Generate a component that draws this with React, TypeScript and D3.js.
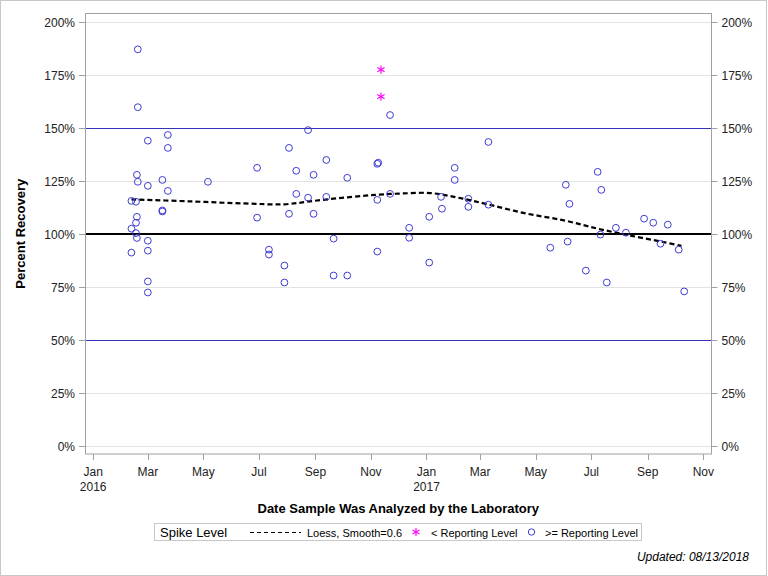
import React, { useEffect, useRef } from 'react';
import * as d3 from 'd3';

const width = 768;
const height = 576;
const font = '"Liberation Sans", Arial, sans-serif';

// samples at or above the reporting level (date analyzed, percent recovery)
const aboveDates = [
	'2016-02-12', '2016-02-12', '2016-02-12',
	'2016-02-17', '2016-02-17', '2016-02-17',
	'2016-02-18', '2016-02-18', '2016-02-18',
	'2016-02-19', '2016-02-19', '2016-02-19',
	'2016-03-01', '2016-03-01', '2016-03-01', '2016-03-01', '2016-03-01', '2016-03-01',
	'2016-03-17', '2016-03-17', '2016-03-17',
	'2016-03-23', '2016-03-23', '2016-03-23',
	'2016-05-06',
	'2016-06-29', '2016-06-29',
	'2016-07-12', '2016-07-12',
	'2016-07-29', '2016-07-29',
	'2016-08-03', '2016-08-03',
	'2016-08-11', '2016-08-11',
	'2016-08-24', '2016-08-24',
	'2016-08-30', '2016-08-30',
	'2016-09-13', '2016-09-13',
	'2016-09-21', '2016-09-21',
	'2016-10-06', '2016-10-06',
	'2016-11-08', '2016-11-09', '2016-11-08', '2016-11-08',
	'2016-11-22', '2016-11-22',
	'2016-12-13', '2016-12-13',
	'2017-01-04', '2017-01-04',
	'2017-01-17', '2017-01-18',
	'2017-02-01', '2017-02-01',
	'2017-02-16', '2017-02-16',
	'2017-03-10', '2017-03-10',
	'2017-05-17', '2017-06-03', '2017-06-05', '2017-06-07', '2017-06-25',
	'2017-07-08', '2017-07-11', '2017-07-12', '2017-07-18', '2017-07-28',
	'2017-08-08', '2017-08-28', '2017-09-07', '2017-09-15', '2017-09-23',
	'2017-10-05', '2017-10-11',
];
const aboveValues = [
	115.8, 102.7, 91.4,
	115.4, 105.5, 100.6,
	128.1, 108.3, 98.3,
	187.3, 160.0, 124.8,
	144.2, 122.9, 97.0, 92.3, 77.8, 72.6,
	125.7, 111.3, 110.8,
	146.9, 140.8, 120.5,
	124.8,
	131.4, 107.9,
	92.8, 90.5,
	85.3, 77.3,
	140.8, 109.7,
	130.0, 119.1,
	149.2, 117.3,
	128.1, 109.7,
	135.1, 117.7,
	98.0, 80.6,
	126.7, 80.6,
	133.3, 133.8, 116.3, 91.9,
	156.3, 119.1,
	103.1, 98.4,
	108.3, 86.7,
	117.7, 112.1,
	131.4, 125.7,
	116.8, 113.0,
	143.6, 114.0,
	93.7, 123.4, 96.6, 114.4, 82.9,
	129.5, 99.9, 121.0, 77.3, 103.1,
	100.8, 107.4, 105.5, 95.6, 104.6,
	92.8, 73.1,
];

// samples below the reporting level
const belowDates = ['2016-11-12', '2016-11-12'];
const belowValues = [177.7, 165.0];

// loess fit (smooth=0.6)
const loessDates = [
	'2016-02-12', '2016-04-15', '2016-06-15', '2016-07-29', '2016-08-30', '2016-10-06',
	'2016-11-08', '2016-12-05', '2017-01-05', '2017-02-05', '2017-03-10',
	'2017-04-20', '2017-06-01', '2017-07-08', '2017-08-12', '2017-09-18', '2017-10-08',
];
const loessValues = [
	116.5, 115.6, 114.6, 114.2, 115.8, 117.5,
	118.7, 119.3, 119.5, 117.3, 114.1,
	109.9, 106.6, 102.7, 99.5, 96.4, 94.6,
];

const yTicks = [0, 25, 50, 75, 100, 125, 150, 175, 200];
const refLines = [50, 100, 150];
const xTickDates = [
	'2016-01-01', '2016-03-01', '2016-05-01', '2016-07-01', '2016-09-01', '2016-11-01',
	'2017-01-01', '2017-03-01', '2017-05-01', '2017-07-01', '2017-09-01', '2017-11-01',
];

const margin = { left: 85, right: 711.5, top: 13.5, bottom: 454 };
const parse = d3.utcParse('%Y-%m-%d');

const blue = '#3c3cd0';
const asteriskPath = (r: number) => {
	const a = Math.PI / 3;
	let p = '';
	for (let i = 0; i < 3; i++) {
		const dx = r * Math.sin(i * a);
		const dy = r * Math.cos(i * a);
		p += `M${-dx},${-dy}L${dx},${dy}`;
	}
	return p;
};

const App = () => {
	const ref = useRef<SVGSVGElement>(null);

	useEffect(() => {
		const svg = d3.select(ref.current);
		svg.selectAll('*').remove();

		const x = d3
			.scaleUtc()
			.domain([parse('2015-12-23')!, parse('2017-11-10')!])
			.range([margin.left, margin.right]);
		const y = d3.scaleLinear().domain([-3.6, 204.2]).range([margin.bottom, margin.top]);

		svg.append('rect').attr('x', 0.5).attr('y', 0.5).attr('width', width - 2).attr('height', height - 1)
			.attr('fill', '#fff').attr('stroke', '#c8c8c8');

		// grid
		svg.append('g').selectAll('line').data(yTicks).join('line')
			.attr('x1', margin.left).attr('x2', margin.right)
			.attr('y1', (d) => Math.round(y(d)) + 0.5).attr('y2', (d) => Math.round(y(d)) + 0.5)
			.attr('stroke', '#e2e2e2');

		// reference lines
		svg.append('g').selectAll('line').data(refLines).join('line')
			.attr('x1', margin.left).attr('x2', margin.right)
			.attr('y1', (d) => Math.round(y(d)) + (d === 100 ? 0 : 0.5))
			.attr('y2', (d) => Math.round(y(d)) + (d === 100 ? 0 : 0.5))
			.attr('stroke', (d) => (d === 100 ? '#000' : '#3333bb'))
			.attr('stroke-width', (d) => (d === 100 ? 2 : 1));

		// loess
		const line = d3
			.line<number>()
			.x((_, i) => x(parse(loessDates[i])!))
			.y((d) => y(d))
			.curve(d3.curveCatmullRom.alpha(0.5));
		svg.append('path').attr('d', line(loessValues))
			.attr('fill', 'none').attr('stroke', '#000').attr('stroke-width', 2.2)
			.attr('stroke-dasharray', '5,3');

		// points
		svg.append('g').selectAll('circle').data(aboveValues).join('circle')
			.attr('cx', (_, i) => x(parse(aboveDates[i])!))
			.attr('cy', (d) => y(d))
			.attr('r', 3.4)
			.attr('fill', 'none').attr('stroke', blue).attr('stroke-width', 1);

		svg.append('g').selectAll('path').data(belowValues).join('path')
			.attr('transform', (d, i) => `translate(${x(parse(belowDates[i])!)},${y(d)})`)
			.attr('d', asteriskPath(4.2))
			.attr('stroke', '#ff00ff').attr('stroke-width', 1.1);

		// frame
		svg.append('rect')
			.attr('x', margin.left + 0.5).attr('y', margin.top)
			.attr('width', margin.right - margin.left - 0.5).attr('height', margin.bottom - margin.top)
			.attr('fill', 'none').attr('stroke', '#a0a0a0');

		const axisText = (g: any) => g.attr('font-family', font).attr('font-size', 12).attr('fill', '#222');

		// left axis
		const yl = svg.append('g').call(axisText);
		yl.selectAll('line').data(yTicks).join('line')
			.attr('x1', margin.left - 6).attr('x2', margin.left)
			.attr('y1', (d) => Math.round(y(d)) + 0.5).attr('y2', (d) => Math.round(y(d)) + 0.5)
			.attr('stroke', '#a0a0a0');
		yl.selectAll('text').data(yTicks).join('text')
			.attr('x', margin.left - 10).attr('y', (d) => y(d) + 4.5)
			.attr('text-anchor', 'end').text((d) => `${d}%`);

		// right axis
		const yr = svg.append('g').call(axisText);
		yr.selectAll('line').data(yTicks).join('line')
			.attr('x1', margin.right).attr('x2', margin.right + 6)
			.attr('y1', (d) => Math.round(y(d)) + 0.5).attr('y2', (d) => Math.round(y(d)) + 0.5)
			.attr('stroke', '#a0a0a0');
		yr.selectAll('text').data(yTicks).join('text')
			.attr('x', margin.right + 10).attr('y', (d) => y(d) + 4.5)
			.text((d) => `${d}%`);

		// bottom axis
		const xa = svg.append('g').call(axisText);
		const xt = xTickDates.map((d) => parse(d)!);
		xa.selectAll('line').data(xt).join('line')
			.attr('x1', (d) => Math.round(x(d)) + 0.5).attr('x2', (d) => Math.round(x(d)) + 0.5)
			.attr('y1', margin.bottom).attr('y2', margin.bottom + 6)
			.attr('stroke', '#a0a0a0');
		xa.selectAll('text.m').data(xt).join('text').attr('class', 'm')
			.attr('x', (d) => x(d)).attr('y', 476).attr('text-anchor', 'middle')
			.text((d) => d3.utcFormat('%b')(d));
		xa.selectAll('text.yr').data(xt.filter((d) => d.getUTCMonth() === 0)).join('text').attr('class', 'yr')
			.attr('x', (d) => x(d)).attr('y', 491).attr('text-anchor', 'middle')
			.text((d) => d3.utcFormat('%Y')(d));

		// axis titles
		svg.append('text')
			.attr('x', (margin.left + margin.right) / 2).attr('y', 513)
			.attr('text-anchor', 'middle').attr('font-family', font).attr('font-size', 13).attr('font-weight', 'bold')
			.text('Date Sample Was Analyzed by the Laboratory');
		svg.append('text')
			.attr('transform', `translate(25,${(margin.top + margin.bottom) / 2}) rotate(-90)`)
			.attr('text-anchor', 'middle').attr('font-family', font).attr('font-size', 13).attr('font-weight', 'bold')
			.text('Percent Recovery');

		// legend
		const lg = svg.append('g').attr('font-family', font);
		lg.append('rect').attr('x', 154.5).attr('y', 523.5).attr('width', 487).attr('height', 17)
			.attr('fill', '#fff').attr('stroke', '#c8c8c8');
		lg.append('text').attr('x', 160).attr('y', 537).attr('font-size', 13).text('Spike Level');
		lg.append('line').attr('x1', 250).attr('x2', 301).attr('y1', 532.5).attr('y2', 532.5)
			.attr('stroke', '#000').attr('stroke-dasharray', '4,3');
		lg.append('text').attr('x', 307).attr('y', 536.5).attr('font-size', 11).text('Loess, Smooth=0.6');
		lg.append('path').attr('transform', 'translate(416,532)').attr('d', asteriskPath(4))
			.attr('stroke', '#ff00ff').attr('stroke-width', 1.1);
		lg.append('text').attr('x', 431).attr('y', 536.5).attr('font-size', 11).text('< Reporting Level');
		lg.append('circle').attr('cx', 531.5).attr('cy', 532).attr('r', 3.2)
			.attr('fill', 'none').attr('stroke', blue);
		lg.append('text').attr('x', 545).attr('y', 536.5).attr('font-size', 11).text('>= Reporting Level');

		svg.append('text').attr('x', 749).attr('y', 561).attr('text-anchor', 'end')
			.attr('font-family', font).attr('font-size', 12).attr('font-style', 'italic')
			.text('Updated: 08/13/2018');
	}, []);

	return (
		<div style={{ position: 'absolute', left: 0, top: 0 }}>
			<svg ref={ref} width={width} height={height} style={{ display: 'block' }} />
		</div>
	);
};

export default App;
